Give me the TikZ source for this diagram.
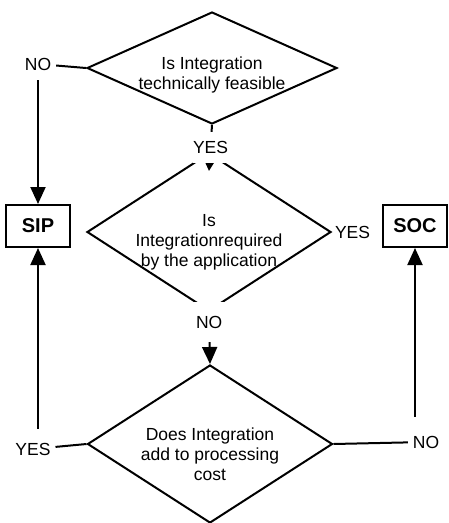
\documentclass[tikz,border=0pt]{standalone}
\usepackage{fontspec}
\setmainfont{Liberation Sans}
\usetikzlibrary{shapes.geometric,arrows.meta}

\begin{document}
\begin{tikzpicture}[
      x=1pt, y=-1pt,
      line width=2pt,
      every node/.style={inner sep=0pt,font=\fontsize{17.5}{20}\selectfont},
      decision/.style={draw, diamond},
      question/.style={align=center},
      outcome/.style={draw, minimum width=64pt, minimum height=42pt,
        font=\fontsize{20}{24}\selectfont\bfseries},
      answer/.style={fill=white, inner sep=4pt},
      arr/.style={-{Triangle[length=17pt,width=15pt]}},
      smallarr/.style={-{Triangle[length=10pt,width=10pt]}}
    ]
  \useasboundingbox (0,0) rectangle (448,523);

  % The three questions, top to bottom
  \node[decision, minimum width=250pt, minimum height=112pt,
    label={[question, yshift=-7pt]center:{Is Integration\\technically feasible}}]
    (feasible) at (212,68) {};
  \node[decision, minimum width=244pt, minimum height=158pt,
    label={[question, yshift=-10pt]center:{Is\\Integrationrequired\\by the application}}]
    (required) at (209,232) {};
  \node[decision, minimum width=245pt, minimum height=158pt,
    label={[question, yshift=-10pt]center:{Does Integration\\add to processing\\cost}}]
    (cost) at (210,444) {};

  % The two outcomes
  \node[outcome] (sip) at (38,226) {SIP};
  \node[outcome] (soc) at (415,226) {SOC};

  % Answers standing on their own
  \node[answer] (noA) at (38,64) {NO};
  \node[answer, anchor=west, inner sep=2pt] (yesB) at (required.east) {YES};
  \node[answer] (yesC) at (33,449) {YES};
  \node[answer] (noC) at (426,442) {NO};

  % Connectors (the white answer boxes hide the diamond tips)
  \draw (noA) -- (feasible.west);
  \draw[arr, shorten <=5pt] (noA.south -| sip) -- (sip.north);
  \draw[smallarr] (feasible.south)
    -- node[answer, pos=0.48, minimum width=36pt, minimum height=31pt, inner sep=0pt] (yesA) {YES}
    ([yshift=-19pt]required.north);
  \draw[arr] (required.south)
    -- node[answer, pos=0.2, minimum width=40pt, minimum height=40pt, inner sep=0pt] (noB) {NO}
    (cost.north);
  \draw (yesC) -- (cost.west);
  \draw[arr, shorten <=9pt] (yesC.north -| sip) -- (sip.south);
  \draw (cost.east) -- (noC);
  \draw[arr, shorten <=14pt] (noC.north -| soc) -- (soc.south);
\end{tikzpicture}
\end{document}
